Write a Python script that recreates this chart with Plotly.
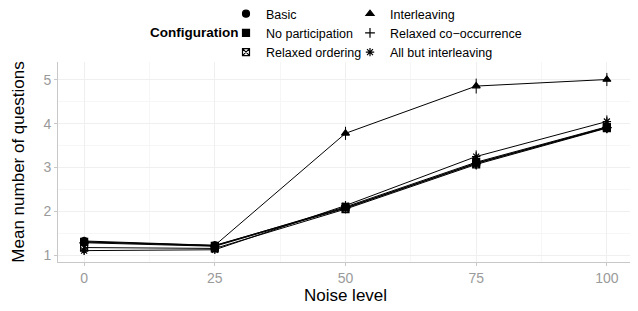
import plotly.graph_objects as go

noise = [0, 25, 50, 75, 100]
basic = [1.32, 1.22, 2.08, 3.10, 3.92]
no_participation = [1.30, 1.21, 2.10, 3.12, 3.93]
relaxed_ordering = [1.17, 1.15, 2.05, 3.07, 3.90]
interleaving = [1.30, 1.22, 3.78, 4.86, 5.01]
relaxed_cooccurrence = [1.28, 1.20, 2.07, 3.09, 3.91]
all_but_interleaving = [1.10, 1.12, 2.13, 3.25, 4.05]

err_basic = [0.10, 0.06, 0.10, 0.12, 0.12]
err_nopart = [0.10, 0.06, 0.10, 0.12, 0.12]
err_relord = [0.10, 0.06, 0.10, 0.12, 0.12]
err_inter = [0.10, 0.06, 0.15, 0.17, 0.15]
err_relco = [0.10, 0.06, 0.10, 0.12, 0.12]
err_allbut = [0.10, 0.06, 0.10, 0.14, 0.14]

series = [
    ("Basic", basic, err_basic, "circle", "legend"),
    ("No participation", no_participation, err_nopart, "square", "legend"),
    ("Relaxed ordering", relaxed_ordering, err_relord, "square-x-open", "legend"),
    ("Interleaving", interleaving, err_inter, "triangle-up", "legend2"),
    ("Relaxed co\u2212occurrence", relaxed_cooccurrence, err_relco, "cross-thin", "legend2"),
    ("All but interleaving", all_but_interleaving, err_allbut, "asterisk-open", "legend2"),
]

fig = go.Figure()
for name, ys, es, sym, lg in series:
    fig.add_trace(go.Scatter(
        x=noise, y=ys, mode="lines", showlegend=False, hoverinfo="skip",
        line=dict(color="black", width=1),
    ))
for name, ys, es, sym, lg in series:
    fig.add_trace(go.Scatter(
        x=noise, y=ys, name=name, mode="markers",
        marker=dict(symbol=sym, size=7, color="black",
                    line=dict(color="black", width=1.2)),
        error_y=dict(type="data", array=es, visible=True, width=0,
                     thickness=1, color="black"),
        legend=lg,
    ))

font = "Liberation Sans, Arial, sans-serif"
axis_common = dict(
    showline=True, linecolor="#c8c8c8", linewidth=1,
    ticks="outside", ticklen=3, tickcolor="#c8c8c8",
    showgrid=True, gridcolor="#efefef", gridwidth=1,
    zeroline=False, automargin=False,
    tickfont=dict(size=14, color="#9a9a9a", family=font),
)

# The page body adds an 8px offset; helpers take on-screen pixel positions.
# On-screen plot area: x 58..633, y 62..262
def px_x(p):
    return (p - 58) / 575

def px_y(p):
    return (262 - p) / 200

fig.update_layout(
    width=630, height=303,
    margin=dict(l=50, r=5, t=54, b=49, autoexpand=False),
    paper_bgcolor="white", plot_bgcolor="white",
    font=dict(family=font, color="black"),
    xaxis=dict(range=[-5, 105], tickmode="linear", tick0=0, dtick=25,
               minor=dict(dtick=12.5, showgrid=True, gridcolor="#f6f6f6", gridwidth=1),
               title=dict(text="Noise level", font=dict(size=17, family=font), standoff=4),
               **axis_common),
    yaxis=dict(range=[0.84, 5.41], tickmode="linear", tick0=1, dtick=1,
               minor=dict(dtick=0.5, showgrid=True, gridcolor="#f6f6f6", gridwidth=1),
               title=dict(text="Mean number of questions", font=dict(size=17, family=font), standoff=14),
               **axis_common),
    legend=dict(x=px_x(226), y=px_y(-1),
                xanchor="left", yanchor="top", orientation="v",
                font=dict(size=12.5, family=font), bgcolor="rgba(0,0,0,0)",
                itemwidth=30, tracegroupgap=0),
    legend2=dict(x=px_x(350), y=px_y(-1),
                 xanchor="left", yanchor="top", orientation="v",
                 font=dict(size=12.5, family=font), bgcolor="rgba(0,0,0,0)",
                 itemwidth=30, tracegroupgap=0),
    annotations=[dict(text="<b>Configuration</b>", xref="paper", yref="paper",
                      x=px_x(240), y=px_y(32), xanchor="right", yanchor="middle",
                      showarrow=False, font=dict(size=13.5, family=font))],
)

fig.write_html("out.html")
